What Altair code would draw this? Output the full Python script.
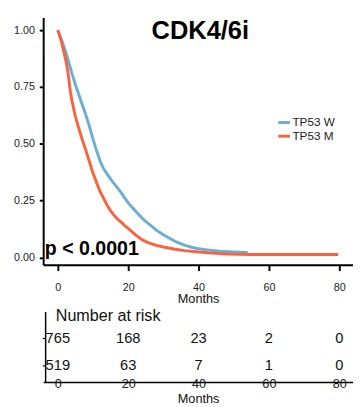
import altair as alt
import pandas as pd

# ---- data ----
groups = ["TP53 W", "TP53 M"]
colors = ["#6BAED6", "#FA6340"]

months_w = [0, 1, 2, 3, 4, 5, 6, 7, 8, 9, 10, 11, 12, 13, 14, 15, 16, 17, 18, 19, 20,
            22, 24, 26, 28, 30, 32, 34, 36, 38, 40, 43, 46, 50, 54]
surv_w = [1.0, 0.96, 0.915, 0.865, 0.81, 0.76, 0.715, 0.67, 0.625, 0.575, 0.52, 0.47, 0.425,
          0.39, 0.368, 0.345, 0.325, 0.305, 0.285, 0.262, 0.24, 0.205, 0.172, 0.145, 0.12,
          0.1, 0.082, 0.066, 0.054, 0.045, 0.038, 0.032, 0.027, 0.024, 0.022]

months_m = [0, 1, 2, 2.5, 3, 3.5, 4, 5, 6, 7, 8, 9, 10, 11, 12, 13, 14, 15, 16, 17, 18, 19, 20,
            22, 24, 26, 28, 30, 33, 36, 40, 44, 48, 55, 79.7]
surv_m = [1.0, 0.95, 0.885, 0.85, 0.8, 0.735, 0.69, 0.62, 0.565, 0.515, 0.47, 0.42, 0.37, 0.33,
          0.29, 0.26, 0.23, 0.205, 0.185, 0.168, 0.155, 0.14, 0.128, 0.1, 0.077, 0.063, 0.053,
          0.046, 0.037, 0.03, 0.024, 0.019, 0.015, 0.013, 0.013]

x_ticks = [0, 20, 40, 60, 80]
y_ticks = [0, 0.25, 0.5, 0.75, 1.0]

risk_times = [0, 20, 40, 60, 80]
risk_w = [765, 168, 23, 2, 0]
risk_m = [519, 63, 7, 1, 0]

title_text = ["CDK4/6i"]
p_text = ["p < 0.0001"]
risk_title = ["Number at risk"]

FONT = "Liberation Sans"

curves = pd.concat([
    pd.DataFrame({"month": months_w, "surv": surv_w, "group": groups[0]}),
    pd.DataFrame({"month": months_m, "surv": surv_m, "group": groups[1]}),
])

xscale = alt.Scale(domain=[-4.17, 83.9], nice=False, zero=False)
yscale = alt.Scale(domain=[-0.032, 1.056], nice=False, zero=False)

color = alt.Color(
    "group:N",
    scale=alt.Scale(domain=groups, range=colors),
    legend=alt.Legend(
        title=None, orient="none", legendX=239, legendY=100,
        symbolType="stroke", symbolStrokeWidth=3, symbolSize=144,
        labelFont=FONT, labelFontSize=12, labelColor="#222", rowPadding=-2,
        labelOffset=1, padding=0,
    ),
)

x_main = alt.X("month:Q", scale=xscale,
               axis=alt.Axis(values=x_ticks, title="Months", grid=False,
                             tickSize=6, labelPadding=11, titlePadding=1,
                             labelFontSize=11, titleFontSize=13,
                             domainWidth=2, tickWidth=2))
y_main = alt.Y("surv:Q", scale=yscale,
               axis=alt.Axis(values=y_ticks, format=".2f", title=None, grid=False,
                             tickSize=4, labelPadding=5, labelFontSize=11,
                             domainWidth=2, tickWidth=2, minExtent=36, maxExtent=36))

base = alt.Chart(curves)
line_w = base.transform_filter(alt.datum.group == groups[0]).mark_line(
    strokeWidth=3).encode(x=x_main, y=y_main, color=color)
line_m = base.transform_filter(alt.datum.group == groups[1]).mark_line(
    strokeWidth=3).encode(x=x_main, y=y_main, color=color)

title_df = pd.DataFrame({"month": [40.5], "surv": [0.995], "label": title_text})
title_mark = alt.Chart(title_df).mark_text(
    font=FONT, fontSize=26, fontWeight="bold", color="black", align="center", baseline="middle"
).encode(x=alt.X("month:Q", scale=xscale), y=alt.Y("surv:Q", scale=yscale), text="label:N")

p_df = pd.DataFrame({"month": [-3.7], "surv": [0.037], "label": p_text})
p_mark = alt.Chart(p_df).mark_text(
    font=FONT, fontSize=20, fontWeight="bold", color="black", align="left", baseline="middle"
).encode(x=alt.X("month:Q", scale=xscale), y=alt.Y("surv:Q", scale=yscale), text="label:N")

main = alt.layer(line_w, line_m, title_mark, p_mark).properties(width=317, height=253)

# ---- risk table ----
risk_df = pd.concat([
    pd.DataFrame({"month": risk_times, "n": risk_w, "row": 2}),
    pd.DataFrame({"month": risk_times, "n": risk_m, "row": 1}),
])
rscale_y = alt.Scale(domain=[0.393, 2.964], nice=False, zero=False)
xscale_r = alt.Scale(domain=[-4.17, 83.9], nice=False, zero=False)

x_risk = alt.X("month:Q", scale=xscale_r,
               axis=alt.Axis(values=x_ticks, title="Months", grid=False, ticks=False,
                             tickSize=0, labelPadding=-4, titlePadding=2,
                             labelFontSize=13, titleFontSize=13, domainWidth=1.5))
y_risk = alt.Y("row:Q", scale=rscale_y,
               axis=alt.Axis(values=[1, 2], labels=False, title=None, grid=False,
                             tickSize=3, domainWidth=1.5, tickWidth=1.2, offset=-2,
                             minExtent=36, maxExtent=36))

risk_text = alt.Chart(risk_df).mark_text(
    font=FONT, fontSize=15, color="#111", align="center", baseline="middle"
).encode(x=x_risk, y=y_risk, text="n:Q")

rt_df = pd.DataFrame({"month": [-0.6], "row": [2.79], "label": risk_title})
rt_mark = alt.Chart(rt_df).mark_text(
    font=FONT, fontSize=16.5, color="#111", align="left", baseline="middle"
).encode(x=alt.X("month:Q", scale=xscale_r), y=alt.Y("row:Q", scale=rscale_y), text="label:N")

risk = alt.layer(risk_text, rt_mark).properties(width=317, height=72)

chart = alt.vconcat(main, risk, spacing=2).resolve_scale(x="independent").properties(
    padding={"left": 0, "top": 5, "right": 0, "bottom": 0}
).configure_view(stroke=None).configure_axis(
    labelFont=FONT, titleFont=FONT, labelColor="#222", titleColor="#111",
    titleFontWeight="normal", domainColor="black", tickColor="black",
)

chart.save("out.html", embed_options={"renderer": "svg", "actions": False})
